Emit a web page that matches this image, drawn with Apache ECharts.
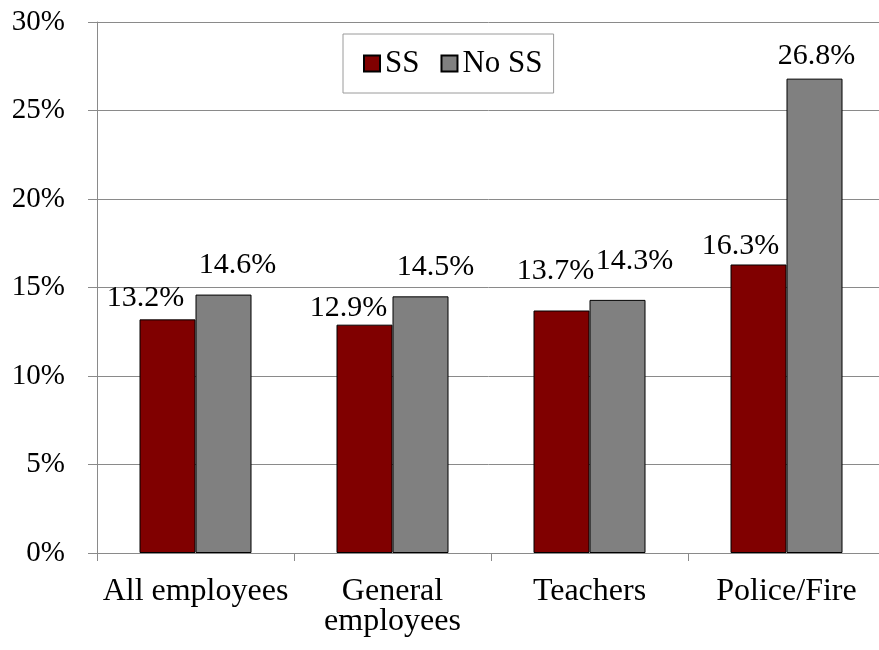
<!DOCTYPE html>
<html>
<head>
<meta charset="utf-8">
<script src="https://cdn.jsdelivr.net/npm/echarts@6/dist/echarts.min.js"></script>
<style>
  html, body { margin: 0; padding: 0; background: #fff; }
  #chart { width: 879px; height: 650px; }
</style>
</head>
<body>
<div id="chart"></div>
<script>
var categories = ['All employees', 'General\nemployees', 'Teachers', 'Police/Fire'];
var ssValues = [13.2, 12.9, 13.7, 16.3];
var noSsValues = [14.6, 14.5, 14.3, 26.8];
var yTicks = [0, 5, 10, 15, 20, 25, 30];

// label nudges (Excel moved them around to avoid overlaps)
var ssShift = [[-22, -6], [-16, -2], [-6, -24], [-18, -3]];
var noSsShift = [[14, -14], [15, -14], [17, -24], [2, -8]];

var FONT = '"Liberation Serif", "Times New Roman", serif';
var AXIS_GRAY = '#8a8a8a';

function withLabels(values, shifts) {
  return values.map(function (v, i) {
    return { value: v, label: { offset: shifts[i] } };
  });
}

var chartDom = document.getElementById('chart');
var myChart = echarts.init(chartDom);
var option;

option = {
  animation: false,
  textStyle: { fontFamily: FONT },
  grid: { left: 97, top: 22, width: 788, height: 531, outerBoundsMode: 'none' },
  legend: {
    left: 343,
    top: 34,
    padding: [14, 11, 14, 20],
    borderColor: '#9a9a9a',
    borderWidth: 1,
    itemWidth: 16,
    itemHeight: 16,
    itemGap: 21,
    itemTextGap: 6,
    icon: 'rect',
    textStyle: { fontFamily: FONT, fontSize: 31, color: '#000' },
    data: ['SS', 'No SS']
  },
  xAxis: {
    type: 'category',
    data: categories,
    axisLine: { lineStyle: { color: AXIS_GRAY, width: 1 } },
    axisTick: { show: true, length: 8, lineStyle: { color: AXIS_GRAY } },
    axisLabel: {
      color: '#000',
      fontFamily: FONT,
      fontSize: 32,
      lineHeight: 30,
      margin: 24,
      interval: 0
    }
  },
  yAxis: {
    type: 'value',
    min: 0,
    max: yTicks[yTicks.length - 1],
    interval: 5,
    axisLine: { show: true, lineStyle: { color: AXIS_GRAY, width: 1 } },
    axisTick: { show: true, length: 9, lineStyle: { color: AXIS_GRAY } },
    splitLine: { lineStyle: { color: AXIS_GRAY, width: 1 } },
    axisLabel: {
      color: '#000',
      fontFamily: FONT,
      fontSize: 29,
      margin: 32,
      formatter: '{value}%'
    }
  },
  series: [
    {
      name: 'SS',
      type: 'bar',
      barWidth: 56,
      barGap: '0%',
      data: withLabels(ssValues, ssShift),
      itemStyle: { color: '#800000', borderColor: '#000', borderWidth: 1 },
      label: {
        show: true,
        position: 'top',
        distance: 0,
        color: '#000',
        fontFamily: FONT,
        fontSize: 30,
        formatter: function (p) { return p.value.toFixed(1) + '%'; }
      }
    },
    {
      name: 'No SS',
      type: 'bar',
      barWidth: 56,
      barGap: '0%',
      data: withLabels(noSsValues, noSsShift),
      itemStyle: { color: '#808080', borderColor: '#000', borderWidth: 1 },
      label: {
        show: true,
        position: 'top',
        distance: 0,
        color: '#000',
        fontFamily: FONT,
        fontSize: 30,
        formatter: function (p) { return p.value.toFixed(1) + '%'; }
      }
    }
  ]
};

option && myChart.setOption(option);
</script>
</body>
</html>
